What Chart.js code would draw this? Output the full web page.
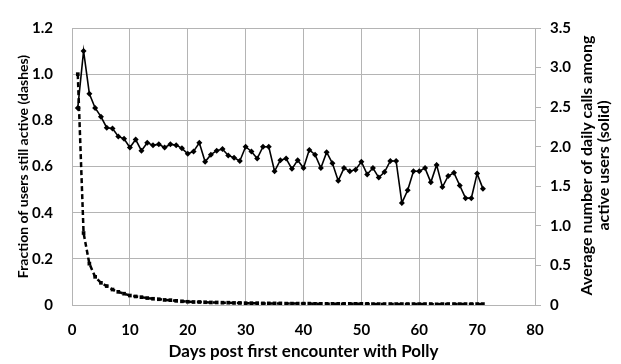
<!DOCTYPE html>
<html>
<head>
<meta charset="utf-8">
<script src="https://cdn.jsdelivr.net/npm/chart.js@4.4.0/dist/chart.umd.min.js"></script>
<style>
	html, body { margin: 0; padding: 0; background: #fff; }
	#chart { display: block; }
</style>
</head>
<body>
<canvas id="chart" width="621" height="364"></canvas>
<script>
// days since first encounter (x)
var days = [1, 2, 3, 4, 5, 6, 7, 8, 9, 10,
	11, 12, 13, 14, 15, 16, 17, 18, 19, 20,
	21, 22, 23, 24, 25, 26, 27, 28, 29, 30,
	31, 32, 33, 34, 35, 36, 37, 38, 39, 40,
	41, 42, 43, 44, 45, 46, 47, 48, 49, 50,
	51, 52, 53, 54, 55, 56, 57, 58, 59, 60,
	61, 62, 63, 64, 65, 66, 67, 68, 69, 70, 71];

// fraction of users still active (dashed, left axis)
var fractionActive = [1.0, 0.312, 0.179, 0.122, 0.096, 0.082, 0.067, 0.057, 0.049, 0.041,
	0.037, 0.034, 0.030, 0.027, 0.025, 0.022, 0.021, 0.018, 0.016, 0.014,
	0.013, 0.013, 0.012, 0.011, 0.011, 0.010, 0.010, 0.009, 0.009, 0.008,
	0.008, 0.008, 0.007, 0.007, 0.007, 0.007, 0.006, 0.006, 0.006, 0.006,
	0.006, 0.005, 0.005, 0.005, 0.005, 0.005, 0.005, 0.005, 0.005, 0.005,
	0.005, 0.004, 0.004, 0.004, 0.004, 0.004, 0.004, 0.004, 0.004, 0.004,
	0.004, 0.004, 0.003, 0.004, 0.004, 0.004, 0.004, 0.004, 0.004, 0.004, 0.004];

// average daily calls among active users (solid, right axis)
var dailyCalls = [2.49, 3.21, 2.67, 2.49, 2.38, 2.24, 2.23, 2.13, 2.10, 1.99,
	2.09, 1.95, 2.05, 2.02, 2.03, 1.99, 2.03, 2.02, 1.98, 1.91,
	1.94, 2.05, 1.81, 1.90, 1.95, 1.97, 1.89, 1.86, 1.82, 2.00,
	1.94, 1.85, 2.00, 2.00, 1.69, 1.83, 1.85, 1.72, 1.83, 1.73,
	1.96, 1.90, 1.73, 1.93, 1.79, 1.57, 1.73, 1.69, 1.71, 1.81,
	1.65, 1.73, 1.61, 1.68, 1.82, 1.82, 1.29, 1.45, 1.69, 1.69,
	1.73, 1.55, 1.77, 1.49, 1.63, 1.67, 1.51, 1.35, 1.35, 1.66, 1.47];

var xTitle = 'Days post first encounter with Polly';
var leftTitle = 'Fraction of users still active (dashes)';
var rightTitleLines = ['Average number of daily calls among', 'active users (solid)'];

var fontFamily = 'Lato, "Open Sans", sans-serif';
var gridColor = '#b4b4b4';
var textColor = '#000';

function points(values) {
	return days.map(function(d, i) { return { x: d, y: values[i] }; });
}

// Chart.js turns a right-hand title the other way, so draw it here
var rightTitle = {
	id: 'rightTitle',
	afterDraw: function(chart) {
		var c = chart.ctx;
		var s = chart.scales.yRight;
		var area = chart.chartArea;
		var cy = (area.top + area.bottom) / 2 - 1;
		c.save();
		c.fillStyle = textColor;
		c.font = 'bold 16px ' + fontFamily;
		c.textAlign = 'center';
		c.textBaseline = 'middle';
		rightTitleLines.forEach(function(line, i) {
			c.save();
			c.translate(s.right - 34 + i * 17, cy);
			c.rotate(-Math.PI / 2);
			c.fillText(line, 0, 0);
			c.restore();
		});
		c.restore();
	}
};

var tickFont = { family: fontFamily, size: 15, weight: 'bold' };

var ctx = document.getElementById('chart').getContext('2d');
new Chart(ctx, {
	type: 'line',
	data: {
		datasets: [{
			label: 'Fraction active',
			data: points(fractionActive),
			yAxisID: 'yLeft',
			borderColor: '#000',
			borderWidth: 2.5,
			borderDash: [5, 3],
			pointStyle: 'rect',
			pointRadius: 2.6,
			pointBackgroundColor: '#000',
			pointBorderColor: '#000',
			pointBorderWidth: 0,
			tension: 0
		}, {
			label: 'Daily calls',
			data: points(dailyCalls),
			yAxisID: 'yRight',
			borderColor: '#000',
			borderWidth: 1.6,
			pointStyle: 'rectRot',
			pointRadius: 3,
			pointBackgroundColor: '#000',
			pointBorderColor: '#000',
			pointBorderWidth: 0,
			tension: 0
		}]
	},
	options: {
		responsive: false,
		animation: false,
		layout: { padding: { top: 13, left: 0, right: 0, bottom: 0 } },
		plugins: {
			legend: { display: false },
			tooltip: { enabled: false }
		},
		scales: {
			x: {
				type: 'linear',
				min: 0,
				max: 80,
				ticks: { stepSize: 10, padding: 16, color: textColor, font: tickFont },
				grid: { color: gridColor, drawTicks: false },
				border: { color: gridColor },
				title: { display: true, text: xTitle, color: textColor, padding: { top: 0, bottom: 2 }, font: { family: fontFamily, size: 17, weight: 'bold' } },
				afterFit: function(s) { s.height = 59; }
			},
			yLeft: {
				position: 'left',
				min: 0,
				max: 1.2,
				ticks: { stepSize: 0.2, padding: 19, color: textColor, font: tickFont },
				grid: { color: gridColor, drawTicks: false },
				border: { color: gridColor },
				title: { display: true, text: leftTitle, color: textColor, padding: { top: 15, bottom: 0 }, font: { family: fontFamily, size: 14, weight: 'bold' } },
				afterFit: function(s) { s.width = 72; }
			},
			yRight: {
				position: 'right',
				min: 0,
				max: 3.5,
				ticks: { stepSize: 0.5, padding: 9, color: textColor, font: tickFont },
				grid: { drawOnChartArea: false, color: gridColor, tickLength: 6 },
				border: { color: gridColor },
				afterFit: function(s) { s.width = 86; }
			}
		}
	},
	plugins: [rightTitle]
});
</script>
</body>
</html>
